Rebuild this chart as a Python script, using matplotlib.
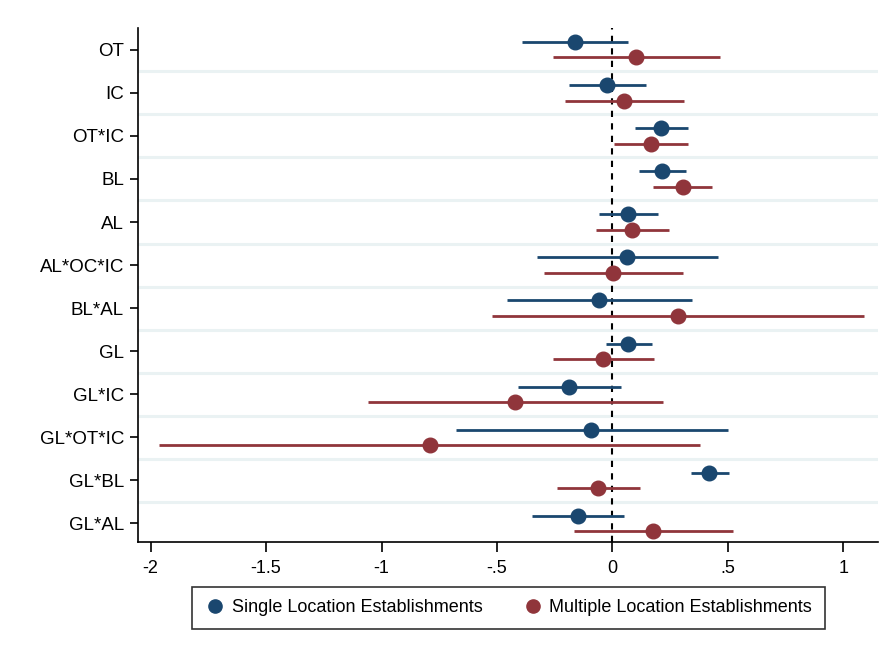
import numpy as np
import matplotlib
matplotlib.use("Agg")
import matplotlib.pyplot as plt
from matplotlib.lines import Line2D

plt.rcParams["font.family"] = ["Liberation Sans", "DejaVu Sans"]

terms = ["OT", "IC", "OT*IC", "BL", "AL", "AL*OC*IC", "BL*AL",
         "GL", "GL*IC", "GL*OT*IC", "GL*BL", "GL*AL"]

# single location establishments: estimate and 95% CI
single_b = [-0.162, -0.022, 0.211, 0.216, 0.066, 0.064, -0.057,
            0.069, -0.187, -0.091, 0.420, -0.150]
single_lo = [-0.393, -0.189, 0.096, 0.115, -0.059, -0.327, -0.457,
             -0.030, -0.410, -0.678, 0.339, -0.349]
single_hi = [0.069, 0.145, 0.329, 0.319, 0.199, 0.459, 0.344,
             0.172, 0.039, 0.499, 0.506, 0.049]

# multiple location establishments
multi_b = [0.103, 0.052, 0.165, 0.305, 0.086, 0.002, 0.283,
           -0.039, -0.423, -0.791, -0.061, 0.174]
multi_lo = [-0.258, -0.206, 0.005, 0.177, -0.071, -0.297, -0.523,
            -0.258, -1.059, -1.966, -0.241, -0.167]
multi_hi = [0.467, 0.310, 0.329, 0.432, 0.246, 0.305, 1.088,
            0.179, 0.219, 0.381, 0.118, 0.521]

xticks = [-2, -1.5, -1, -0.5, 0, 0.5, 1]
xticklabels = ["-2", "-1.5", "-1", "-.5", "0", ".5", "1"]

BLUE = "#1a476f"
RED = "#90353b"

fig = plt.figure(figsize=(8.9, 6.58), dpi=100)
ax = fig.add_axes([0.155, 0.1763, 0.8315, 0.7811])

y = np.arange(len(terms))
off = 0.175

# light separators between coefficient rows
for s in y[:-1] + 0.5:
    ax.axhline(s, color="#eaf2f3", lw=2.2, zorder=0)

ax.axvline(0, color="black", lw=1.5, ls=(0, (3, 3)), zorder=1)

for b, lo, hi, yy, col in [(single_b, single_lo, single_hi, y - off, BLUE),
                           (multi_b, multi_lo, multi_hi, y + off, RED)]:
    ax.hlines(yy, lo, hi, color=col, lw=2, zorder=2)
    ax.plot(b, yy, "o", color=col, ms=10.5, zorder=3)

ax.set_ylim(11.44, -0.51)
ax.set_xlim(-2.055, 1.15)
ax.set_yticks(y)
ax.set_yticklabels(terms, fontsize=13.5)
ax.set_xticks(xticks)
ax.set_xticklabels(xticklabels, fontsize=13)
ax.tick_params(axis="y", length=6, width=1.2, pad=4)
ax.tick_params(axis="x", length=7, width=1.2, pad=6)

for side in ["top", "right"]:
    ax.spines[side].set_visible(False)
for side in ["left", "bottom"]:
    ax.spines[side].set_linewidth(1.2)

handles = [Line2D([], [], ls="none", marker="o", color=BLUE, ms=9.5),
           Line2D([], [], ls="none", marker="o", color=RED, ms=9.5)]
leg = fig.legend(handles, ["Single Location Establishments",
                           "Multiple Location Establishments"],
                 loc="center", bbox_to_anchor=(0.571, 0.076), ncol=2,
                 fontsize=13, frameon=True, fancybox=False,
                 handletextpad=0.3, columnspacing=2.2, borderpad=0.7,
                 handlelength=1.2)
leg.get_frame().set_edgecolor("black")
leg.get_frame().set_linewidth(1.2)

fig.savefig("out.png", dpi=100)
